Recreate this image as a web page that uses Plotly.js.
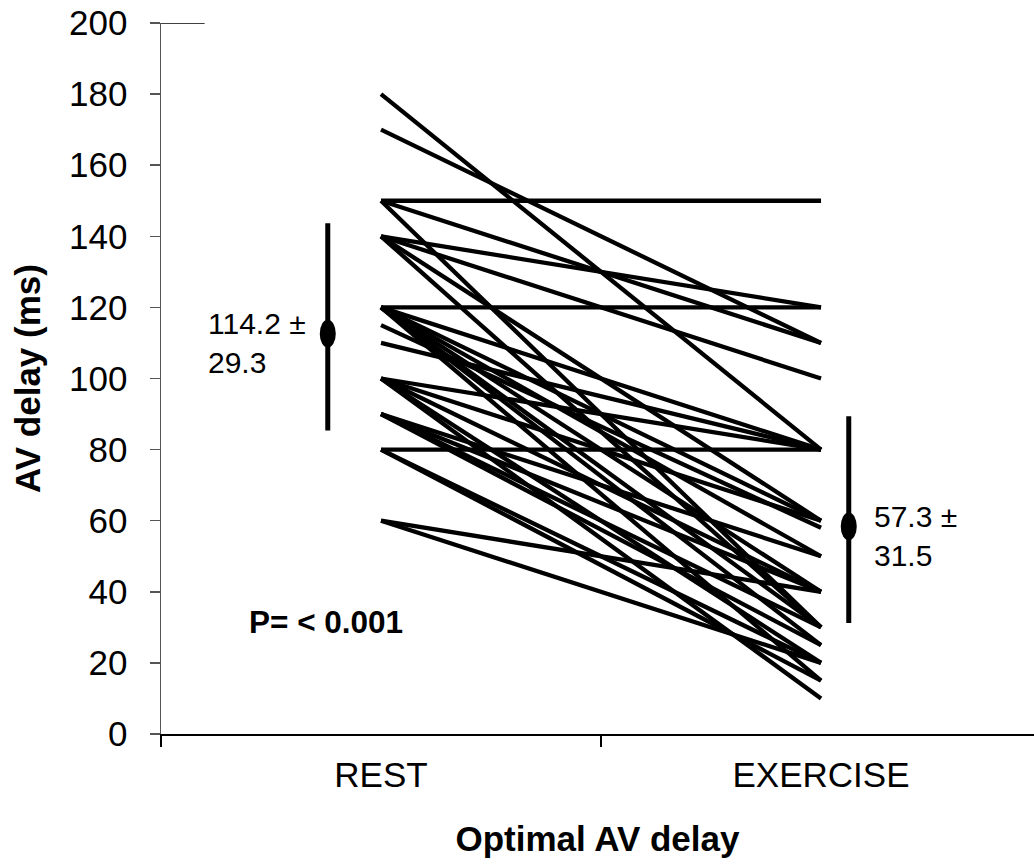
<!DOCTYPE html>
<html>
<head>
<meta charset="utf-8">
<script src="https://cdn.plot.ly/plotly-3.0.1.min.js"></script>
<style>html,body{margin:0;padding:0;background:#fff;}#chart{width:1034px;height:867px;}</style>
</head>
<body>
<div id="chart"></div>
<script>
// ---- data ----
const categories = ["REST", "EXERCISE"];
const restValues = [180,170,150,150,150,140,140,140,140,120,120,120,120,120,120,120,120,115,110,100,100,100,100,100,90,90,90,90,80,80,80,60,60];
const exerciseValues = [80,110,150,110,30,120,100,30,60,120,80,60,40,25,15,50,30,58,80,80,60,40,20,10,50,40,25,30,80,20,15,40,20];
const groupMeans = [112.6, 58.4];
const errPlus = [31.1, 31.0];
const errMinus = [27.2, 27.2];
const meanLabels = ["114.2 ±<br>29.3", "57.3 ±<br>31.5"];
const pLabel = "P= < 0.001";
const yTicks = [0,20,40,60,80,100,120,140,160,180,200];

// ---- layout constants (positions) ----
const catPos = [0.5, 1.5];
const meanPos = [0.379, 1.563];
const FONT = "Liberation Sans, Arial, sans-serif";

const traces = [];
for (let i = 0; i < restValues.length; i++) {
  traces.push({
    type: "scatter", mode: "lines",
    x: catPos, y: [restValues[i], exerciseValues[i]],
    line: {color: "#000", width: 4.3},
    hoverinfo: "skip", showlegend: false
  });
}
traces.push({
  type: "scatter", mode: "markers",
  x: meanPos, y: groupMeans,
  marker: {size: 1, color: "#000"},
  error_y: {type: "data", symmetric: false, array: errPlus, arrayminus: errMinus,
            thickness: 5, width: 0, color: "#000"},
  showlegend: false, hoverinfo: "skip"
});
traces.push({
  type: "scatter", mode: "markers", xaxis: "x2", yaxis: "y",
  x: catPos, y: [null, null], showlegend: false, hoverinfo: "skip"
});

const shapes = groupMeans.map((m, i) => ({
  type: "circle", xref: "x", yref: "y",
  xsizemode: "pixel", ysizemode: "pixel",
  xanchor: meanPos[i], yanchor: m,
  x0: -8, x1: 8, y0: -14, y1: 14,
  fillcolor: "#000", line: {width: 0}
}));
shapes.push({type: "line", xref: "paper", yref: "y", x0: 0, x1: 0.05, y0: 200, y1: 200,
  line: {color: "#000", width: 1.5}});

const annotations = [
  {xref: "x", yref: "y", x: 0.103, y: 110, xanchor: "left", yanchor: "middle", align: "left",
   text: meanLabels[0], showarrow: false, font: {family: FONT, size: 30, color: "#000"}},
  {xref: "x", yref: "y", x: 1.616, y: 55.6, xanchor: "left", yanchor: "middle", align: "left",
   text: meanLabels[1], showarrow: false, font: {family: FONT, size: 30, color: "#000"}},
  {xref: "x", yref: "y", x: 0.195, y: 31.4, xanchor: "left", yanchor: "middle",
   text: "<b>" + pLabel + "</b>", showarrow: false, font: {family: FONT, size: 31.5, color: "#000"}}
];

const layout = {
  width: 1034, height: 867,
  margin: {l: 161, r: 0, t: 23, b: 133},
  paper_bgcolor: "#fff", plot_bgcolor: "#fff",
  showlegend: false,
  font: {family: FONT, color: "#000"},
  xaxis: {
    range: [0, 1.984], tickvals: [0, 1], ticktext: ["", ""],
    ticks: "outside", ticklen: 11, tickwidth: 1.5, tickcolor: "#000",
    showline: true, linecolor: "#000", linewidth: 1.5,
    showgrid: false, zeroline: false, fixedrange: true
  },
  xaxis2: {
    overlaying: "x", anchor: "y", side: "bottom",
    range: [0, 1.984], tickvals: catPos, ticktext: categories,
    ticks: "outside", ticklen: 10, tickcolor: "rgba(0,0,0,0)",
    showline: false, showgrid: false, zeroline: false,
    tickfont: {family: FONT, size: 35, color: "#000"},
    title: {text: "<b>Optimal AV delay</b>", font: {family: FONT, size: 35}, standoff: 33}
  },
  yaxis: {
    range: [0, 200], tickvals: yTicks,
    ticks: "outside", ticklen: 10, tickwidth: 1.5, tickcolor: "#555",
    showline: true, linecolor: "#555", linewidth: 1.5,
    showgrid: false, zeroline: false,
    tickfont: {family: FONT, size: 35, color: "#000"},
    ticklabelstandoff: 15,
    title: {text: "<b>AV delay (ms)</b>", font: {family: FONT, size: 35}, standoff: 18}
  },
  shapes: shapes,
  annotations: annotations
};

Plotly.newPlot("chart", traces, layout, {displayModeBar: false, staticPlot: true});
</script>
</body>
</html>
